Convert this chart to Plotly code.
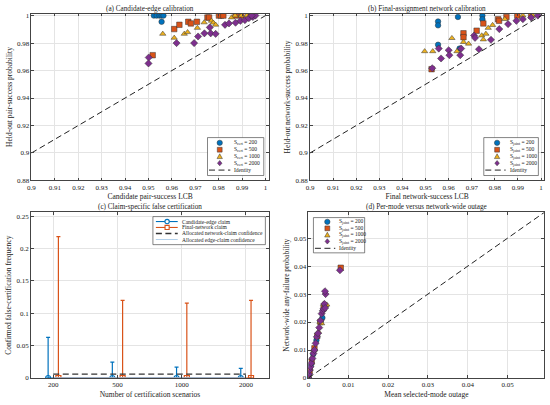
import plotly.graph_objects as go

# ---- colours (MATLAB default order)
BLUE, ORANGE, YELLOW, PURPLE = "#0072BD", "#D95319", "#EDB120", "#7E2F8E"
FONT = "Liberation Serif"
DASH = "6px,3.5px"

# ---- (a) candidate-edge calibration: LCB vs held-out probability
a_x200 = [0.9523, 0.9535, 0.9547, 0.9556, 0.9564, 0.9556]
a_y200 = [1.0, 1.0, 1.0, 1.0, 1.0, 0.9955]
a_x500 = [0.9518, 0.9610, 0.9632, 0.9670, 0.9681, 0.9707, 0.9752, 0.9759, 0.9801, 0.9810, 0.9820, 0.9872, 0.9897, 0.9936]
a_y500 = [0.9712, 0.9902, 0.9933, 0.9955, 0.9943, 0.9955, 0.9986, 0.9986, 1.0, 1.0, 1.0, 1.0, 1.0, 1.0]
a_x1000 = [0.9561, 0.9610, 0.9653, 0.9667, 0.9709, 0.9738, 0.9769, 0.9777, 0.9787, 0.9855, 0.9870, 0.9897, 0.9920, 0.9936, 0.9950]
a_y1000 = [0.9867, 0.9838, 0.9867, 0.9879, 0.9910, 0.9950, 0.9962, 0.9948, 0.9933, 0.9986, 1.0, 1.0, 1.0, 1.0, 1.0]
a_x2000 = [0.9501, 0.9500, 0.9620, 0.9695, 0.9712, 0.9739, 0.9766, 0.9787, 0.9762, 0.9827, 0.9844, 0.9872,
           0.9893, 0.9912, 0.9929, 0.9946, 0.9957, 0.9941]
a_y2000 = [0.9695, 0.9652, 0.9800, 0.9800, 0.9848, 0.9871, 0.9871, 0.9867, 0.9914, 0.9933, 0.9943, 0.9948,
           0.9962, 0.9967, 0.9981, 0.9990, 1.0, 1.0]

# ---- (b) final-assignment network calibration
b_x200 = [0.9554, 0.9554, 0.9554, 0.9640, 0.9746, 0.9746, 0.9647]
b_y200 = [0.9957, 0.9929, 0.9788, 0.9990, 1.0, 0.9974, 0.9760]
b_x500 = [0.9526, 0.9664, 0.9664, 0.9721, 0.9750, 0.9814, 0.9818, 0.9850, 0.9897, 0.9957]
b_y500 = [0.9610, 0.9871, 0.9843, 0.9890, 0.9943, 0.9974, 0.9962, 0.9990, 1.0, 1.0]
b_x1000 = [0.9496, 0.9531, 0.9614, 0.9636, 0.9664, 0.9686, 0.9743, 0.9750, 0.9761, 0.9771, 0.9790, 0.9843, 0.9921, 0.9964]
b_y1000 = [0.9740, 0.9740, 0.9836, 0.9740, 0.9807, 0.9795, 0.9855, 0.9826, 0.9867, 0.9910, 0.9931, 0.9974, 1.0, 1.0]
b_x2000 = [0.9529, 0.9557, 0.9567, 0.9600, 0.9603, 0.9650, 0.9654, 0.9710, 0.9714, 0.9731, 0.9783, 0.9819,
           0.9857, 0.9893, 0.9921, 0.9957, 0.9986]
b_y2000 = [0.9617, 0.9760, 0.9688, 0.9748, 0.9712, 0.9712, 0.9760, 0.9855, 0.9838, 0.9755, 0.9824, 0.9902,
           0.9938, 0.9962, 0.9974, 0.9986, 1.0]

# ---- (c) claim-specific false certification
c_scen = ["200", "500", "1000", "2000"]
c_pos = [1, 2, 3, 4]
c_edge = [0, 0, 0, 0]
c_edge_hi = [0.0628, 0.0245, 0.0168, 0.0148]
c_net = [0, 0, 0, 0]
c_net_hi = [0.2184, 0.1199, 0.1158, 0.1199]
c_net_conf = 0.006
c_edge_conf = 0.0006

# ---- (d) per-mode vs network-wide outage
d_x200 = [0, 0.0002, 0.0006, 0.0012, 0.0020, 0.0031, 0.0035]
d_y200 = [0, 0.0015, 0.0045, 0.0085, 0.0135, 0.0205, 0.0215]
d_x500 = [0, 0.0003, 0.0008, 0.0015, 0.0022, 0.0030, 0.0038, 0.0081]
d_y500 = [0, 0.0025, 0.0058, 0.0106, 0.0150, 0.0200, 0.0250, 0.0394]
d_x1000 = [0, 0.0004, 0.0008, 0.0014, 0.0025, 0.0029, 0.0033, 0.0038, 0.0043, 0.0046]
d_y1000 = [0, 0.0032, 0.0071, 0.0100, 0.0165, 0.0200, 0.0195, 0.0265, 0.0259, 0.0262]
d_x2000 = [0, 0.0001, 0.0003, 0.0005, 0.0007, 0.0010, 0.00125, 0.0015, 0.0018, 0.0021, 0.0024, 0.0027,
           0.0030, 0.0033, 0.0036, 0.00375, 0.0040, 0.0042, 0.0043, 0.00415, 0.0079]
d_y2000 = [0, 0.0014, 0.0029, 0.0040, 0.0053, 0.0070, 0.0088, 0.0100, 0.0124, 0.0147, 0.0160, 0.0180,
           0.0205, 0.0230, 0.0240, 0.0247, 0.0265, 0.0250, 0.0300, 0.0310, 0.0385]

W, H = 550, 405
fig = go.Figure()
STYLES = [(BLUE, "circle"), (ORANGE, "square"), (YELLOW, "triangle-up"), (PURPLE, "diamond")]
EDGE = "#333"

def scatter_set(xs, ys, ax):
    for x, y, (col, sym) in zip(xs, ys, STYLES):
        fig.add_trace(go.Scatter(
            x=x, y=y, mode="markers", showlegend=False, xaxis="x" + ax, yaxis="y" + ax,
            marker=dict(color=col, symbol=sym, size=5.5, line=dict(color=EDGE, width=0.5))))

def identity(lo, hi, ax):
    fig.add_trace(go.Scatter(
        x=[lo, hi], y=[lo, hi], mode="lines", showlegend=False, xaxis="x" + ax, yaxis="y" + ax,
        line=dict(color="#222", width=1, dash=DASH)))

scatter_set([a_x200, a_x500, a_x1000, a_x2000], [a_y200, a_y500, a_y1000, a_y2000], "")
identity(0.9, 1.0, "")
scatter_set([b_x200, b_x500, b_x1000, b_x2000], [b_y200, b_y500, b_y1000, b_y2000], "2")
identity(0.9, 1.0, "2")

# (c)
off = 0.08
fig.add_trace(go.Scatter(
    x=[p - off for p in c_pos], y=c_edge, mode="lines+markers", showlegend=False, xaxis="x3", yaxis="y3",
    line=dict(color=BLUE, width=1.2), marker=dict(symbol="circle-open", size=5, color=BLUE, line=dict(width=1.2)),
    error_y=dict(type="data", array=c_edge_hi, arrayminus=[0] * 4, color=BLUE, thickness=1.2, width=2)))
fig.add_trace(go.Scatter(
    x=[p + off for p in c_pos], y=c_net, mode="lines+markers", showlegend=False, xaxis="x3", yaxis="y3",
    line=dict(color=ORANGE, width=1.2), marker=dict(symbol="square-open", size=5, color=ORANGE, line=dict(width=1.2)),
    error_y=dict(type="data", array=c_net_hi, arrayminus=[0] * 4, color=ORANGE, thickness=1.2, width=2)))
fig.add_trace(go.Scatter(
    x=[c_pos[0], c_pos[-1]], y=[c_net_conf, c_net_conf], mode="lines", showlegend=False,
    xaxis="x3", yaxis="y3", line=dict(color="#333", width=1.2, dash=DASH)))
fig.add_trace(go.Scatter(
    x=[c_pos[0], c_pos[-1]], y=[c_edge_conf, c_edge_conf], mode="lines", showlegend=False,
    xaxis="x3", yaxis="y3", line=dict(color="#9cc3e4", width=0.8)))

# (d)
scatter_set([d_x200, d_x500, d_x1000, d_x2000], [d_y200, d_y500, d_y1000, d_y2000], "4")
identity(0, 0.0592, "4")

def axis(domain, rng, dtick=None, tickvals=None, ticktext=None, title="", anchor="y"):
    d = dict(domain=domain, range=rng, anchor=anchor, showgrid=True, gridcolor="#e4e4e4", gridwidth=0.5,
             zeroline=False, showline=True, linecolor="#444", linewidth=0.7, mirror="ticks",
             ticks="inside", ticklen=3, tickwidth=0.5, tickcolor="#444", ticklabeloverflow="allow",
             tickfont=dict(size=7, family=FONT, color="#222"),
             title=dict(text=title, font=dict(size=7.5, family=FONT, color="#222"), standoff=3))
    if dtick is not None:
        d["dtick"] = dtick
        d["tick0"] = 0
    if tickvals is not None:
        d["tickvals"] = tickvals
        d["ticktext"] = ticktext
    return d

# pixel boxes for panels: left, right, top, bottom
boxes = {
    "a": (27.7, 266.7, 12.7, 181.7),
    "b": (308.3, 544.3, 12.7, 181.7),
    "c": (27.3, 266.7, 214.0, 381.7),
    "d": (306.7, 544.3, 214.0, 381.7),
}
def dom(k):
    l, r, t, b = boxes[k]
    return [l / W, r / W], [1 - b / H, 1 - t / H]

ax_a, ay_a = dom("a")
ax_b, ay_b = dom("b")
ax_c, ay_c = dom("c")
ax_d, ay_d = dom("d")

# ---- hand-drawn legends (pixel positions converted to paper)
def X(p):
    return p / W

def Y(p):
    return 1 - p / H

shapes, annots = [], []
LEGFONT = 5.5

def leg_box(l, t, r, b):
    shapes.append(dict(type="rect", xref="paper", yref="paper", x0=X(l), x1=X(r), y0=Y(b), y1=Y(t),
                       line=dict(color="#333", width=0.6), fillcolor="white", layer="above"))

def leg_marker(cx, cy, col, sym, s=2.7, hollow=False):
    fill = "white" if hollow else col
    lc = col if hollow else EDGE
    lw = 1.1 if hollow else 0.5
    common = dict(xref="paper", yref="paper", line=dict(color=lc, width=lw), fillcolor=fill, layer="above")
    if sym == "circle":
        shapes.append(dict(type="circle", x0=X(cx - s), x1=X(cx + s), y0=Y(cy + s), y1=Y(cy - s), **common))
    elif sym == "square":
        shapes.append(dict(type="rect", x0=X(cx - s * 0.9), x1=X(cx + s * 0.9), y0=Y(cy + s * 0.9), y1=Y(cy - s * 0.9), **common))
    elif sym == "triangle-up":
        path = f"M{X(cx - s)},{Y(cy + s * 0.8)} L{X(cx + s)},{Y(cy + s * 0.8)} L{X(cx)},{Y(cy - s)} Z"
        shapes.append(dict(type="path", path=path, **common))
    elif sym == "diamond":
        path = f"M{X(cx)},{Y(cy - s)} L{X(cx + s * 0.85)},{Y(cy)} L{X(cx)},{Y(cy + s)} L{X(cx - s * 0.85)},{Y(cy)} Z"
        shapes.append(dict(type="path", path=path, **common))

def leg_line(x0, x1, y, col, width=1.1, dash="solid"):
    shapes.append(dict(type="line", xref="paper", yref="paper", x0=X(x0), x1=X(x1), y0=Y(y), y1=Y(y),
                       line=dict(color=col, width=width, dash=dash), layer="above"))

def leg_text(x, y, txt):
    annots.append(dict(text=txt, x=X(x), y=Y(y), xref="paper", yref="paper", xanchor="left", yanchor="middle",
                       showarrow=False, borderpad=0, font=dict(size=LEGFONT, family=FONT, color="#222")))

def scatter_legend(l, t, r, b, mx, tx, rows, sub):
    leg_box(l, t, r, b)
    labels = [f"S<sub>{sub}</sub> = {n}" for n in ["200", "500", "1000", "2000"]]
    for cy, (col, sym), lab in zip(rows[:4], STYLES, labels):
        leg_marker(mx, cy, col, sym)
        leg_text(tx, cy, lab)
    leg_line(l + 1.5, tx - 3, rows[4], "#222", width=1, dash=DASH)
    leg_text(tx, rows[4], "Identity")

scatter_legend(205, 138.3, 261.7, 176.7, 217.3, 231, [143.6, 150.6, 157.4, 164.2, 171.2], "cert")
scatter_legend(483.3, 138.3, 538.3, 176.7, 496.7, 508.3, [143.6, 150.6, 157.4, 164.2, 171.2], "joint")
scatter_legend(311.7, 219.3, 363.3, 255.0, 325.7, 336.7, [223.6, 230.2, 236.8, 243.4, 250.4], "joint")

# legend (c)
leg_box(150, 218.3, 263.3, 246.7)
c_rows = [223.3, 229.3, 235.4, 241.5]
leg_line(153, 175, c_rows[0], BLUE, 1.1)
leg_marker(164.3, c_rows[0], BLUE, "circle", s=2.2, hollow=True)
leg_text(178, c_rows[0], "Candidate-edge claim")
leg_line(153, 175, c_rows[1], ORANGE, 1.1)
leg_marker(164.3, c_rows[1], ORANGE, "square", s=2.3, hollow=True)
leg_text(178, c_rows[1], "Final-network claim")
leg_line(153, 175, c_rows[2], "#333", 1.3, DASH)
leg_text(178, c_rows[2], "Allocated network-claim confidence")
leg_line(153, 175, c_rows[3], "#9cc3e4", 0.8)
leg_text(178, c_rows[3], "Allocated edge-claim confidence")

titles = [("(a) Candidate-edge calibration", ax_a, ay_a), ("(b) Final-assignment network calibration", ax_b, ay_b),
          ("(c) Claim-specific false certification", ax_c, ay_c), ("(d) Per-mode versus network-wide outage", ax_d, ay_d)]
for t, dx, dy in titles:
    annots.append(dict(text=t, x=(dx[0] + dx[1]) / 2, y=dy[1], xref="paper", yref="paper",
                       xanchor="center", yanchor="bottom", showarrow=False, yshift=-1,
                       font=dict(size=7.2, family=FONT, color="#222")))

fig.update_layout(
    width=W, height=H, margin=dict(l=0, r=0, t=0, b=0), showlegend=False,
    paper_bgcolor="white", plot_bgcolor="white",
    font=dict(family=FONT, size=7, color="#222"),
    xaxis=axis(ax_a, [0.9, 1.0014], dtick=0.01, title="Candidate pair-success LCB", anchor="y"),
    yaxis=axis(ay_a, [0.88, 1.0015], dtick=0.02, title="Held-out pair-success probability", anchor="x"),
    xaxis2=axis(ax_b, [0.9, 1.0014], dtick=0.01, title="Final network-success LCB", anchor="y2"),
    yaxis2=axis(ay_b, [0.88, 1.0015], dtick=0.02, title="Held-out network-success probability", anchor="x2"),
    xaxis3=axis(ax_c, [0.655, 4.356], tickvals=c_pos, ticktext=c_scen, title="Number of certification scenarios", anchor="y3"),
    yaxis3=axis(ay_c, [0, 0.256], dtick=0.05, title="Confirmed false-certification frequency", anchor="x3"),
    xaxis4=axis(ax_d, [0, 0.0592], dtick=0.01, title="Mean selected-mode outage", anchor="y4"),
    yaxis4=axis(ay_d, [0, 0.0592], dtick=0.01, title="Network-wide any-failure probability", anchor="x4"),
    shapes=shapes, annotations=annots,
)
# the browser's default 8px body margin would push the figure off the window
fig.write_html("out.html", config={"displayModeBar": False},
               post_script="document.body.style.margin='0px';")
